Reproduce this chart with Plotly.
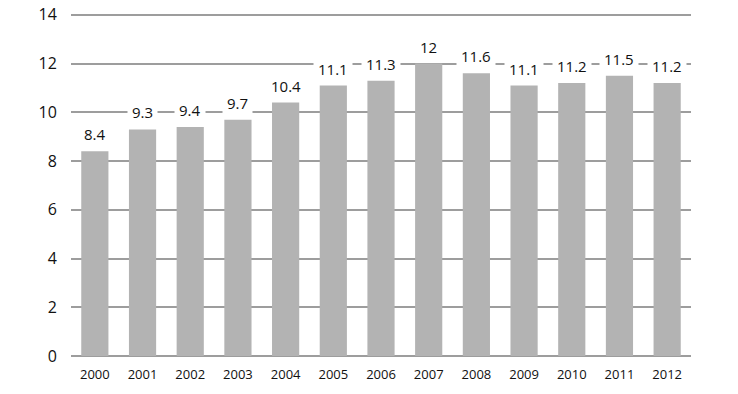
import plotly.graph_objects as go

years = ["2000", "2001", "2002", "2003", "2004", "2005", "2006",
         "2007", "2008", "2009", "2010", "2011", "2012"]
values = [8.4, 9.3, 9.4, 9.7, 10.4, 11.1, 11.3, 12, 11.6, 11.1, 11.2, 11.5, 11.2]
y_ticks = [0, 2, 4, 6, 8, 10, 12, 14]

FONT = "Open Sans"

fig = go.Figure()
fig.add_trace(go.Bar(
    x=years, y=values,
    marker=dict(color="#b3b3b3", line=dict(width=0)),
    hoverinfo="skip",
))

# on a category axis, annotation x is the category position (index)
for i, v in enumerate(values):
    fig.add_annotation(
        x=i, y=v, text=f"{v:g}", showarrow=False,
        yanchor="middle", yshift=17,
        bgcolor="white", borderpad=4,
        font=dict(family=FONT, size=15, color="#111111"),
    )

fig.update_layout(
    width=738, height=394,
    margin=dict(l=71, r=47, t=10, b=38),
    paper_bgcolor="white", plot_bgcolor="white",
    bargap=0.43,
    showlegend=False,
    font=dict(family=FONT, color="#111111"),
)
fig.update_xaxes(
    type="category", automargin=False,
    range=[-0.5, len(years) - 0.5],
    showgrid=False, showline=False, zeroline=False,
    ticks="outside", ticklen=6, tickcolor="white",
    tickfont=dict(family=FONT, size=13, color="#111111"),
)
fig.update_yaxes(
    automargin=False,
    range=[0, 14.2], tickvals=y_ticks,
    showgrid=True, gridcolor="#9d9d9d", gridwidth=2,
    zeroline=True, zerolinecolor="#9d9d9d", zerolinewidth=2,
    showline=False,
    ticks="outside", ticklen=10, tickcolor="white",
    tickfont=dict(family=FONT, size=16, color="#111111"),
)

fig.write_html("out.html")
